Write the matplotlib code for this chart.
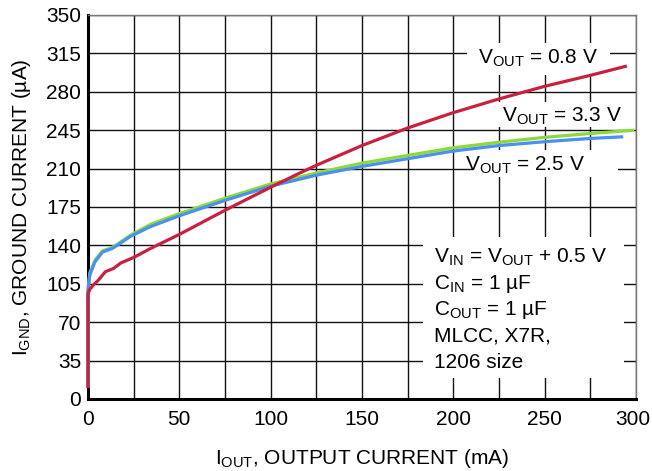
import matplotlib
matplotlib.use("Agg")
import matplotlib.pyplot as plt
import matplotlib.transforms as mtransforms
from matplotlib.patches import Rectangle

plt.rcParams['font.family'] = ['Liberation Sans', 'DejaVu Sans']
plt.rcParams['mathtext.fontset'] = 'custom'
plt.rcParams['mathtext.rm'] = 'Liberation Sans'
plt.rcParams['mathtext.it'] = 'Liberation Sans:italic'
plt.rcParams['mathtext.bf'] = 'Liberation Sans:bold'

# ---- data ----
x_08 = [0, 0, 1, 3, 5.5, 9.5, 14, 18, 25, 34, 50, 75, 100, 116, 125, 150, 175, 200, 225, 250, 275, 295]
y_08 = [10, 96, 100, 104, 108, 116, 119, 124, 129, 137, 150, 172, 193, 206, 213, 231, 247, 261, 273.5, 285, 295, 303.5]

x_25 = [0, 0, 1, 3.8, 8, 13, 16, 23, 34, 50, 75, 100, 125, 150, 175, 200, 225, 250, 275, 293]
y_25 = [10, 99, 113, 125, 134, 137, 140, 148, 157, 167, 181, 194, 204, 212, 219, 226, 231, 234.5, 237.5, 239]

x_33 = [0, 0, 1, 4, 8, 13, 16, 23, 34, 50, 75, 100, 125, 150, 175, 200, 225, 250, 275, 299]
y_33 = [10, 100, 115, 127, 135, 138, 141, 149, 159, 169, 183, 196, 206, 215, 222, 229, 234, 238.5, 242, 245]

x_ticks = [0, 50, 100, 150, 200, 250, 300]
y_ticks = [0, 35, 70, 105, 140, 175, 210, 245, 280, 315, 350]

label_08 = r'V$_{\mathrm{OUT}}$ = 0.8 V'
label_33 = r'V$_{\mathrm{OUT}}$ = 3.3 V'
label_25 = r'V$_{\mathrm{OUT}}$ = 2.5 V'
note_lines = [r'V$_{\mathrm{IN}}$ = V$_{\mathrm{OUT}}$ + 0.5 V',
              r'C$_{\mathrm{IN}}$ = 1 µF',
              r'C$_{\mathrm{OUT}}$ = 1 µF',
              'MLCC, X7R,',
              '1206 size']

RED = '#C8203F'
GREEN = '#8DD93A'
BLUE = '#4A90EE'
FS = 15

fig = plt.figure(figsize=(6.52, 4.71), dpi=100)
ax = fig.add_axes([88/652, 1 - 399/471, (636-88)/652, (399-15)/471])

ax.set_xlim(0, 300)
ax.set_ylim(0, 350)
ax.set_xticks(x_ticks)
ax.set_xticks(list(range(0, 301, 25)), minor=True)
ax.set_yticks(y_ticks)
ax.tick_params(which='both', length=0)
ax.tick_params(axis='x', pad=8, labelsize=FS)
ax.tick_params(axis='y', pad=5, labelsize=FS)
ax.grid(which='both', color='#111111', linewidth=1.0, zorder=0.5)
ax.set_axisbelow(True)

# nudge the last x tick label slightly left so it stays inside the figure
last_lbl = ax.get_xticklabels()[-1]
last_lbl.set_transform(last_lbl.get_transform() +
                       mtransforms.ScaledTranslation(-3/100, 0, fig.dpi_scale_trans))

for s in ['left', 'bottom']:
    ax.spines[s].set_linewidth(2.2)
    ax.spines[s].set_color('black')
for s in ['top', 'right']:
    ax.spines[s].set_linewidth(1.0)
    ax.spines[s].set_color('#777777')

# white label backgrounds (cover the grid)
boxes = [(207.4, 295.4, 285.7, 324.5),
         (220.0, 247.5, 298.8, 271.0),
         (210.7, 202.4, 290.0, 227.0),
         (183.4, 19.1, 293.4, 147.7)]
for x0, y0, x1, y1 in boxes:
    ax.add_patch(Rectangle((x0, y0), x1 - x0, y1 - y0, facecolor='white',
                           edgecolor='none', zorder=1))

ax.plot(x_33, y_33, color=GREEN, lw=2.3, zorder=3, clip_on=False, solid_capstyle='butt')
ax.plot(x_25, y_25, color=BLUE, lw=2.3, zorder=3.1, clip_on=False, solid_capstyle='butt')
ax.plot(x_08, y_08, color=RED, lw=2.3, zorder=3.2, clip_on=False, solid_capstyle='butt')

ax.text(213.3, 306.0, label_08, fontsize=FS, ha='left', va='baseline', zorder=4)
ax.text(226.4, 252.8, label_33, fontsize=FS, ha='left', va='baseline', zorder=4)
ax.text(206.3, 208.1, label_25, fontsize=FS, ha='left', va='baseline', zorder=4)

note_y = [124.6, 100.5, 76.3, 52.2, 28.0]
for txt, yy in zip(note_lines, note_y):
    ax.text(189.4, yy, txt, fontsize=FS, ha='left', va='baseline', zorder=4)

ax.set_xlabel(r'I$_{\mathrm{OUT}}$, OUTPUT CURRENT (mA)', fontsize=FS)
ax.set_ylabel(r'I$_{\mathrm{GND}}$, GROUND CURRENT (µA)', fontsize=FS)
ax.xaxis.set_label_coords(0.5, -0.125)
ax.yaxis.set_label_coords(-0.10, 0.5)

fig.savefig('out.png', dpi=100)
